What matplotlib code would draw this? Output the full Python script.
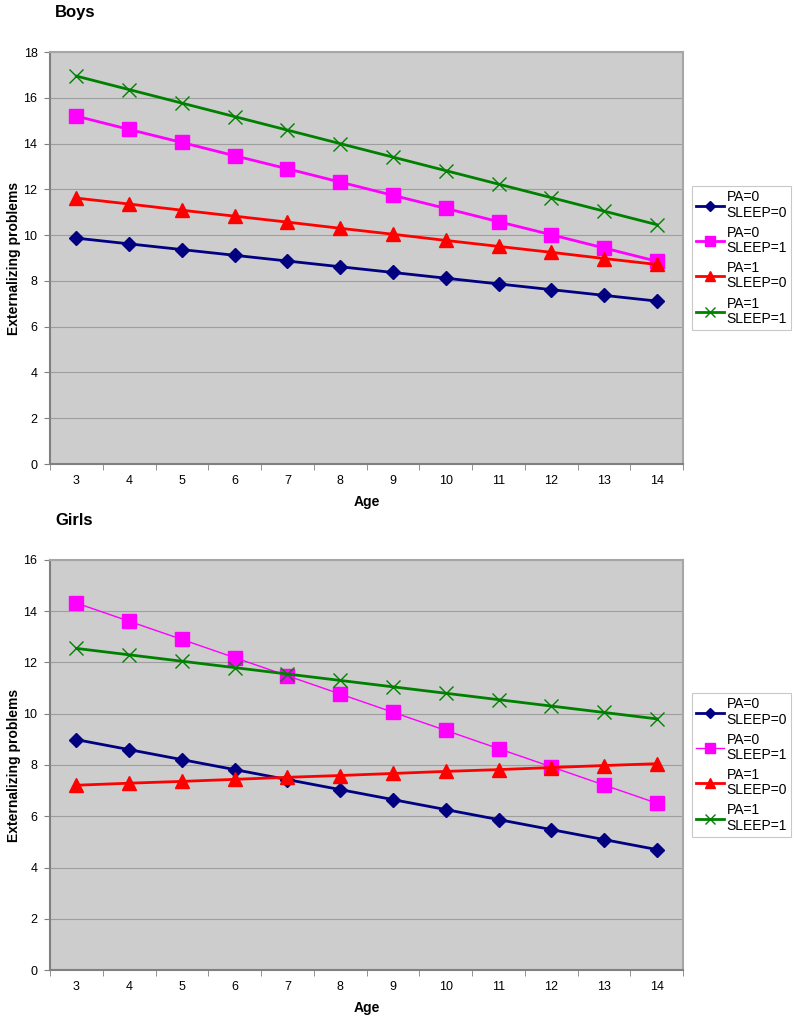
import numpy as np
import matplotlib
matplotlib.use("Agg")
import matplotlib.pyplot as plt

plt.rcParams["font.family"] = ["Liberation Sans", "DejaVu Sans"]

ages = list(range(3, 15))
labels = ["PA=0\nSLEEP=0", "PA=0\nSLEEP=1", "PA=1\nSLEEP=0", "PA=1\nSLEEP=1"]

boys_pa0_s0 = [9.87, 9.62, 9.37, 9.12, 8.87, 8.62, 8.37, 8.12, 7.87, 7.62, 7.37, 7.12]
boys_pa0_s1 = [15.20, 14.62, 14.05, 13.47, 12.90, 12.32, 11.74, 11.17, 10.59, 10.02, 9.44, 8.86]
boys_pa1_s0 = [11.62, 11.36, 11.09, 10.83, 10.57, 10.30, 10.04, 9.77, 9.51, 9.25, 8.98, 8.72]
boys_pa1_s1 = [16.95, 16.36, 15.77, 15.18, 14.59, 14.00, 13.41, 12.82, 12.23, 11.64, 11.05, 10.46]

girls_pa0_s0 = [8.99, 8.60, 8.21, 7.82, 7.43, 7.04, 6.65, 6.26, 5.87, 5.48, 5.09, 4.70]
girls_pa0_s1 = [14.32, 13.61, 12.90, 12.19, 11.48, 10.77, 10.06, 9.35, 8.64, 7.93, 7.22, 6.51]
girls_pa1_s0 = [7.21, 7.29, 7.36, 7.44, 7.52, 7.59, 7.67, 7.75, 7.82, 7.90, 7.98, 8.05]
girls_pa1_s1 = [12.55, 12.30, 12.05, 11.80, 11.55, 11.30, 11.05, 10.80, 10.55, 10.30, 10.05, 9.80]

colors = ["#000080", "#FF00FF", "#FF0000", "#008000"]
markers = ["D", "s", "^", "x"]
msizes = [7, 10, 9.5, 10]


def panel(fig, rect, title, series, ymax, widths):
    ax = fig.add_axes(rect)
    ax.set_facecolor("#CDCDCD")
    for ys, lab, c, m, ms, lw in zip(series, labels, colors, markers, msizes, widths):
        kw = dict(markeredgecolor=c, markerfacecolor=c)
        if m == "x":
            kw["markeredgewidth"] = 1.0
        ax.plot(ages, ys, color=c, lw=lw, marker=m, ms=ms, label=lab, zorder=3, **kw)
    ax.set_xlim(2.5, 14.5)
    ax.set_ylim(0, ymax)
    ax.set_yticks(np.arange(0, ymax + 1, 2))
    ax.set_xticks(ages)
    ax.set_xticks(np.arange(2.5, 15, 1), minor=True)
    ax.tick_params(axis="x", which="major", length=0, pad=8, labelsize=9)
    ax.tick_params(axis="x", which="minor", length=4, color="#808080")
    ax.tick_params(axis="y", length=4, color="#808080", labelsize=9, pad=5)
    ax.grid(axis="y", color="#9E9E9E", lw=0.8, zorder=1)
    ax.set_axisbelow(True)
    for side in ["top", "right"]:
        ax.spines[side].set_color("#A6A6A6")
        ax.spines[side].set_linewidth(1.5)
    for side in ["left", "bottom"]:
        ax.spines[side].set_color("#808080")
        ax.spines[side].set_linewidth(1.5)
    ax.set_xlabel("Age", fontweight="bold", fontsize=10, labelpad=6)
    ax.set_ylabel("Externalizing problems", fontweight="bold", fontsize=10, labelpad=2)
    ax.text(0.069, rect[1] + rect[3] + 0.0385, title, transform=fig.transFigure,
            fontsize=12, fontweight="bold", ha="left", va="center")
    leg = ax.legend(loc="center left", bbox_to_anchor=(1.014, 0.5), fontsize=10,
                    frameon=True, fancybox=False, edgecolor="#BBBBBB",
                    handlelength=2.0, handletextpad=0.2, labelspacing=0.45,
                    borderpad=0.3, borderaxespad=0, markerscale=0.75)
    leg.get_frame().set_linewidth(0.8)
    for t in leg.get_texts():
        t.set_linespacing(1.1)
    return ax


fig = plt.figure(figsize=(8.0, 10.23), dpi=100)

panel(fig, [0.0625, 0.5464, 0.7915, 0.4027], "Boys",
      [boys_pa0_s0, boys_pa0_s1, boys_pa1_s0, boys_pa1_s1], 18,
      [2.0, 2.0, 2.0, 2.0])

panel(fig, [0.0625, 0.0518, 0.7915, 0.4008], "Girls",
      [girls_pa0_s0, girls_pa0_s1, girls_pa1_s0, girls_pa1_s1], 16,
      [2.0, 1.0, 2.0, 2.0])

fig.savefig("out.png", dpi=100)
